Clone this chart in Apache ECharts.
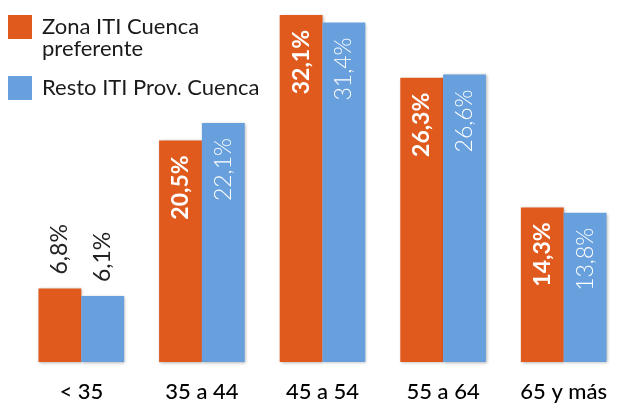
<!DOCTYPE html>
<html>
<head>
<meta charset="utf-8">
<script src="https://cdn.jsdelivr.net/npm/echarts@6/dist/echarts.min.js"></script>
<style>
  html, body { margin: 0; padding: 0; background: #fff; }
  #chart { width: 624px; height: 405px; }
</style>
</head>
<body>
<div id="chart"></div>
<script>
// Age groups and shares (%) for the two territories
const categories = ['< 35', '35 a 44', '45 a 54', '55 a 64', '65 y más'];
const zonaPreferente = [6.8, 20.5, 32.1, 26.3, 14.3];
const restoProvincia = [6.1, 22.1, 31.4, 26.6, 13.8];
const seriesNames = ['Zona ITI Cuenca preferente', 'Resto ITI Prov. Cuenca'];

const ORANGE = '#E05A1E';
const BLUE = '#67A0DD';
const FONT = 'Lato, "Open Sans", sans-serif';
const INSIDE_MIN = 10; // values below this get their label above the bar

const fmt = v => v.toFixed(1).replace('.', ',') + '%';

function barData(values, insideWeight) {
  return values.map(v => {
    const inside = v >= INSIDE_MIN;
    return {
      value: v,
      label: inside ? {
        position: 'insideTop',
        distance: 15,
        align: 'right',
        color: '#fff',
        fontWeight: insideWeight
      } : {
        position: 'top',
        distance: 14,
        align: 'left',
        color: '#222',
        fontWeight: 'normal'
      }
    };
  });
}

const barStyle = color => ({
  color: color,
  shadowColor: 'rgba(0,0,0,0.3)',
  shadowBlur: 3,
  shadowOffsetX: 1,
  shadowOffsetY: 1
});

const legendText = { fontFamily: FONT, fontSize: 22, color: '#1a1a1a', lineHeight: 22 };
// legend rows: extra left padding widens the swatch-to-text gap
const legendRich = {
  s: { lineHeight: 22, fontSize: 22 },
  t: Object.assign({ padding: [0, 0, 0, 5] }, legendText)
};

const chart = echarts.init(document.getElementById('chart'), null, { renderer: 'canvas' });
chart.setOption({
  animation: false,
  backgroundColor: '#fff',
  textStyle: { fontFamily: FONT },
  legend: [
    {
      // two-line entry: an empty first row pushes the text so line 1 sits beside the swatch
      data: [seriesNames[0]],
      left: 8, top: -6, padding: 0,
      icon: 'rect', itemWidth: 24, itemHeight: 24,
      formatter: () => '{s|}\n{t|Zona ITI Cuenca}\n{t|preferente}',
      textStyle: Object.assign({}, legendText, { rich: legendRich }),
      selectedMode: false
    },
    {
      data: [seriesNames[1]],
      left: 8, top: 76, padding: 0,
      icon: 'rect', itemWidth: 24, itemHeight: 24,
      formatter: name => '{t|' + name + '}',
      textStyle: Object.assign({}, legendText, { rich: legendRich }),
      selectedMode: false
    }
  ],
  grid: { left: 21, width: 615, top: 15, bottom: 43, containLabel: false },
  xAxis: {
    type: 'category',
    data: categories,
    axisLine: { show: false },
    axisTick: { show: false },
    axisLabel: { fontFamily: FONT, fontSize: 22, color: '#000', fontWeight: 500, margin: 19 }
  },
  yAxis: {
    type: 'value',
    min: 0,
    max: 32.1,
    show: false,
    splitLine: { show: false }
  },
  series: [
    {
      name: seriesNames[0],
      type: 'bar',
      data: barData(zonaPreferente, 'bold'),
      barCategoryGap: '29%',
      barGap: '0%',
      itemStyle: barStyle(ORANGE),
      label: {
        show: true, rotate: 90, verticalAlign: 'middle',
        fontFamily: FONT, fontSize: 23,
        formatter: p => fmt(p.value)
      }
    },
    {
      name: seriesNames[1],
      type: 'bar',
      data: barData(restoProvincia, 300),
      barCategoryGap: '29%',
      barGap: '0%',
      itemStyle: barStyle(BLUE),
      label: {
        show: true, rotate: 90, verticalAlign: 'middle',
        fontFamily: FONT, fontSize: 23,
        formatter: p => fmt(p.value)
      }
    }
  ]
});
</script>
</body>
</html>
